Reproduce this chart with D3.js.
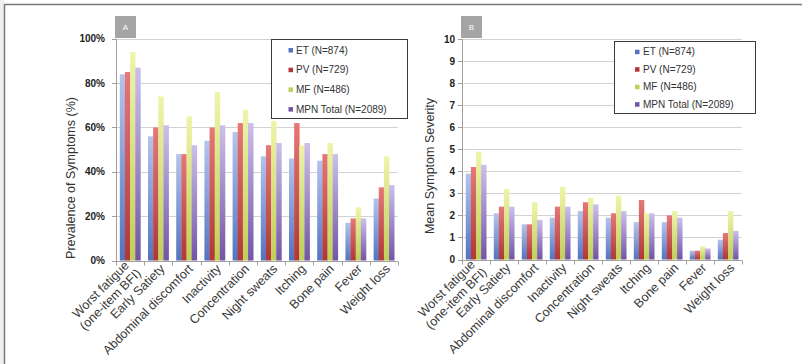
<!DOCTYPE html>
<html>
<head>
<meta charset="utf-8">
<script src="https://cdn.jsdelivr.net/npm/d3@7"></script>
<style>
  body { margin: 0; background: #fff; }
  svg { display: block; font-family: "Liberation Sans", Arial, sans-serif; }
</style>
</head>
<body>
<svg id="chart" width="802" height="364"></svg>
<script>
// symptom categories (multi-line labels as arrays)
const categories = [
  ["Worst fatigue", "(one-item BFI)"], ["Early Satiety"], ["Abdominal discomfort"],
  ["Inactivity"], ["Concentration"], ["Night sweats"], ["Itching"],
  ["Bone pain"], ["Fever"], ["Weight loss"]
];
const seriesNames = ["ET (N=874)", "PV (N=729)", "MF (N=486)", "MPN Total (N=2089)"];

// panel A: prevalence (%)
const prevET  = [84, 56, 48, 54, 58, 47, 46, 45, 17, 28];
const prevPV  = [85, 60, 48, 60, 62, 52, 62, 48, 19, 33];
const prevMF  = [94, 74, 65, 76, 68, 63, 52, 53, 24, 47];
const prevMPN = [87, 61, 52, 61, 62, 53, 53, 48, 19, 34];

// panel B: mean severity
const sevET  = [3.9, 2.1, 1.6, 1.9, 2.2, 1.9, 1.7, 1.7, 0.4, 0.9];
const sevPV  = [4.2, 2.4, 1.6, 2.4, 2.6, 2.1, 2.7, 2.0, 0.4, 1.2];
const sevMF  = [4.9, 3.2, 2.6, 3.3, 2.8, 2.9, 2.1, 2.2, 0.6, 2.2];
const sevMPN = [4.3, 2.4, 1.8, 2.4, 2.5, 2.2, 2.1, 1.9, 0.5, 1.3];

const ticksA = [0, 20, 40, 60, 80, 100];
const ticksB = [0, 1, 2, 3, 4, 5, 6, 7, 8, 9, 10];

// bar gradients: [top, bottom]
const colors = [
  ["#b6c4ec", "#5474c0"],
  ["#e67878", "#b23636"],
  ["#eef4aa", "#c0cf58"],
  ["#ccc0ea", "#7254a8"]
];

const svg = d3.select("#chart");

// outer frame
svg.append("rect").attr("x", 0).attr("y", 0).attr("width", 4).attr("height", 364).attr("fill", "#efefef");
svg.append("path").attr("d", "M4.5,364V4.5H802").attr("fill", "none").attr("stroke", "#7a7a7a").attr("stroke-width", 1.5);

const defs = svg.append("defs");
colors.forEach((c, i) => {
  const lg = defs.append("linearGradient").attr("id", "grad" + i)
    .attr("x1", 0).attr("y1", 0).attr("x2", 0).attr("y2", 1);
  lg.append("stop").attr("offset", "0%").attr("stop-color", c[0]);
  lg.append("stop").attr("offset", "100%").attr("stop-color", c[1]);
});

function drawPanel(cfg) {
  const g = svg.append("g");
  const x = d3.scaleBand().domain(d3.range(categories.length))
    .range([cfg.x0, cfg.x1]).paddingInner(0.27).paddingOuter(0.135);
  const xs = d3.scaleBand().domain(d3.range(seriesNames.length)).range([0, x.bandwidth()]);
  const y = d3.scaleLinear().domain([0, cfg.max]).range([cfg.yb, cfg.yt]);

  // gridlines
  g.selectAll(".grid").data(cfg.ticks.filter(t => t > 0)).join("line")
    .attr("x1", cfg.x0).attr("x2", cfg.x1)
    .attr("y1", d => Math.round(y(d)) + 0.5).attr("y2", d => Math.round(y(d)) + 0.5)
    .attr("stroke", "#d2d2d2");

  // bars
  cfg.data.forEach((vals, s) => {
    g.append("g").selectAll("rect").data(vals).join("rect")
      .attr("x", (d, i) => x(i) + xs(s))
      .attr("width", xs.bandwidth() + 0.3)
      .attr("y", d => y(d))
      .attr("height", d => y(0) - y(d))
      .attr("fill", `url(#grad${s})`);
  });

  // axes lines
  const y0 = Math.round(y(0)) + 0.5;
  g.append("line").attr("x1", cfg.x0).attr("x2", cfg.x1).attr("y1", y0).attr("y2", y0).attr("stroke", "#a0a0a0");
  g.append("line").attr("x1", cfg.x0 + 0.5).attr("x2", cfg.x0 + 0.5).attr("y1", y(cfg.max)).attr("y2", y0).attr("stroke", "#a0a0a0");

  // x tick marks at band boundaries
  const step = x.step();
  g.selectAll(".xt").data(d3.range(categories.length + 1)).join("line")
    .attr("x1", i => Math.round(cfg.x0 + i * step) + 0.5).attr("x2", i => Math.round(cfg.x0 + i * step) + 0.5)
    .attr("y1", y0).attr("y2", y0 + 4).attr("stroke", "#a0a0a0");

  // y ticks + labels
  g.selectAll(".yt").data(cfg.ticks).join("line")
    .attr("x1", cfg.x0 - 4).attr("x2", cfg.x0)
    .attr("y1", d => Math.round(y(d)) + 0.5).attr("y2", d => Math.round(y(d)) + 0.5)
    .attr("stroke", "#a0a0a0");
  g.selectAll(".yl").data(cfg.ticks).join("text")
    .attr("x", cfg.labelX).attr("y", d => y(d)).attr("dy", "0.35em")
    .attr("text-anchor", "end").attr("font-size", 10).attr("font-weight", "bold")
    .attr("fill", "#222").text(cfg.fmt);

  // category labels
  const lab = g.selectAll(".xl").data(categories).join("text")
    .attr("transform", (d, i) => `translate(${x(i) + x.bandwidth() / 2 + 4},${cfg.yb + 6}) rotate(-45)`)
    .attr("text-anchor", "end").attr("font-size", 12.6).attr("fill", "#3a3a3a");
  lab.each(function (lines) {
    const t = d3.select(this);
    lines.forEach((ln, k) => {
      t.append("tspan").attr("x", lines.length > 1 && k === 0 ? -3 : 0)
        .attr("dy", lines.length > 1 ? (k === 0 ? "-0.25em" : "1.1em") : "0.35em")
        .text(ln);
    });
  });

  // y title
  g.append("text")
    .attr("transform", `translate(${cfg.titleX},${cfg.titleY}) rotate(-90)`)
    .attr("text-anchor", "middle").attr("font-size", 12.5).attr("fill", "#333")
    .text(cfg.title);

  // panel letter
  g.append("rect").attr("x", cfg.x0 - 1).attr("y", 16).attr("width", 21).attr("height", 22).attr("fill", "#a5a5a5");
  g.append("text").attr("x", cfg.x0 + 9.5).attr("y", 27).attr("dy", "0.35em")
    .attr("text-anchor", "middle").attr("font-size", 8).attr("fill", "#fff").text(cfg.letter);

  // legend
  const L = cfg.legend;
  g.append("rect").attr("x", L.x + 0.5).attr("y", L.y + 0.5).attr("width", L.w).attr("height", L.h)
    .attr("fill", "#fff").attr("stroke", "#3a3a3a");
  const items = g.selectAll(".lg").data(seriesNames).join("g")
    .attr("transform", (d, i) => `translate(${L.mx},${L.r0 + i * L.dy})`);
  items.append("rect").attr("x", 0).attr("y", -2).attr("width", 4.5).attr("height", 4.5)
    .attr("fill", (d, i) => colors[i][1]);
  items.append("text").attr("x", L.tx - L.mx).attr("y", 0).attr("dy", "0.35em")
    .attr("font-size", 10).attr("fill", "#333").text(d => d);
}

drawPanel({
  x0: 116, x1: 398, yb: 260.5, yt: 38.8, max: 100,
  ticks: ticksA, fmt: d => d + "%", labelX: 105,
  data: [prevET, prevPV, prevMF, prevMPN],
  title: "Prevalence of Symptoms (%)", titleX: 75, titleY: 178,
  letter: "A",
  legend: { x: 271, y: 39, w: 136, h: 79, mx: 288.5, tx: 296, r0: 50, dy: 19.7 }
});

drawPanel({
  x0: 462, x1: 742, yb: 259.5, yt: 39.3, max: 10,
  ticks: ticksB, fmt: d => d, labelX: 455,
  data: [sevET, sevPV, sevMF, sevMPN],
  title: "Mean Symptom Severity", titleX: 434, titleY: 166,
  letter: "B",
  legend: { x: 614, y: 41, w: 141, h: 72, mx: 635, tx: 643, r0: 51.7, dy: 17.5 }
});
</script>
</body>
</html>
